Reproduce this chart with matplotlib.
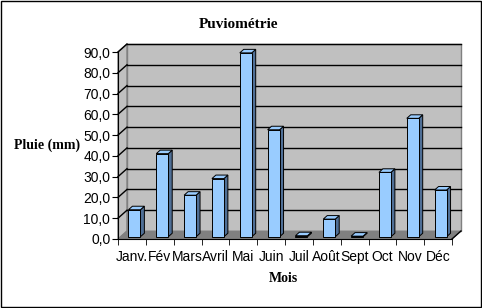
import matplotlib
matplotlib.use("Agg")
import matplotlib.pyplot as plt
from matplotlib.patches import Polygon, Rectangle

# data
mois = ["Janv.", "Fév", "Mars", "Avril", "Mai", "Juin",
        "Juil", "Août", "Sept", "Oct", "Nov", "Déc"]
pluie = [13.0, 40.0, 20.0, 28.0, 88.5, 51.5, 0.5, 8.5, 0.3, 31.0, 57.0, 22.5]
y_ticks = [0, 10, 20, 30, 40, 50, 60, 70, 80, 90]
y_labels = [f"{v:.1f}".replace(".", ",") for v in y_ticks]

# fake 3d depth (in data units) like the old excel chart
DX, DY = 0.323, 3.85
f0, fd = 0.28, 0.44       # bar position / thickness along depth
w = 0.43                  # bar width
wall = "#c0c0c0"
floor = "#808080"
face = "#99ccff"
side = "#4f6f96"

fig = plt.figure(figsize=(4.82, 3.08), dpi=100)
ax = fig.add_axes([118 / 482, 69 / 308, 334 / 482, 187 / 308])
ax.set_xlim(0, len(mois))
ax.set_ylim(0, 90)
ax.patch.set_visible(False)
for s in ["top", "right"]:
    ax.spines[s].set_visible(False)

n = len(mois)
top = y_ticks[-1]
# walls and floor
ax.add_patch(Polygon([(DX, DY), (n + DX, DY), (n + DX, top + DY), (DX, top + DY)],
                     closed=True, fc=wall, ec="#808080", lw=1, clip_on=False, zorder=0))
ax.add_patch(Polygon([(0, 0), (DX, DY), (DX, top + DY), (0, top)],
                     closed=True, fc=wall, ec="#808080", lw=1, clip_on=False, zorder=0))
ax.add_patch(Polygon([(0, 0), (n, 0), (n + DX, DY), (DX, DY)],
                     closed=True, fc=floor, ec=floor, lw=0.5, clip_on=False, zorder=1))
ax.plot([n, n + DX], [0, DY], color="black", lw=1, clip_on=False, zorder=1)

# gridlines on the back wall + the left wall
for v in y_ticks[1:]:
    ax.plot([DX, n + DX], [v + DY, v + DY], color="black", lw=1, clip_on=False, zorder=0.5)
    ax.plot([0, DX], [v, v + DY], color="black", lw=1, clip_on=False, zorder=0.5)

# bars
for i, v in enumerate(pluie):
    xl = i + 0.5 - w / 2 + f0 * DX
    xr = xl + w
    yb = f0 * DY
    yt = v + f0 * DY
    ddx, ddy = fd * DX, fd * DY
    ax.add_patch(Polygon([(xr, yb), (xr + ddx, yb + ddy), (xr + ddx, yt + ddy), (xr, yt)],
                         closed=True, fc=side, ec="black", lw=0.7, clip_on=False, zorder=3))
    ax.add_patch(Polygon([(xl, yt), (xr, yt), (xr + ddx, yt + ddy), (xl + ddx, yt + ddy)],
                         closed=True, fc=face, ec="black", lw=0.7, clip_on=False, zorder=3))
    ax.add_patch(Rectangle((xl, yb), w, v, fc=face, ec="black", lw=0.7,
                           clip_on=False, zorder=3))

ax.set_yticks(y_ticks)
ax.set_yticklabels(y_labels, fontfamily="Liberation Sans", fontsize=10)
ax.set_xticks([i + 0.5 for i in range(n)])
ax.set_xticklabels(mois, fontfamily="Liberation Sans", fontsize=10)
ax.set_xticks(range(n + 1), minor=True)
ax.tick_params(axis="x", which="major", length=0, pad=8)
ax.tick_params(axis="x", which="minor", length=4, direction="out")
ax.tick_params(axis="y", length=4, direction="out", pad=1.5)
ax.spines["left"].set_zorder(4)
ax.spines["bottom"].set_zorder(4)

fig.text(239 / 482, 1 - 25 / 308, "Puviométrie", ha="center", va="center",
         fontfamily="Liberation Serif", fontweight="bold", fontsize=11)
fig.text(47 / 482, 1 - 145 / 308, "Pluie (mm)", ha="center", va="center",
         fontfamily="Liberation Serif", fontweight="bold", fontsize=10)
fig.text(283 / 482, 1 - 279 / 308, "Mois", ha="center", va="center",
         fontfamily="Liberation Serif", fontweight="bold", fontsize=10)

fig.patches.append(Rectangle((0.5 / 482, 1.5 / 308), 480 / 482, 305.5 / 308,
                             transform=fig.transFigure, fill=False, ec="black", lw=1))

fig.savefig("out.png", dpi=100)
